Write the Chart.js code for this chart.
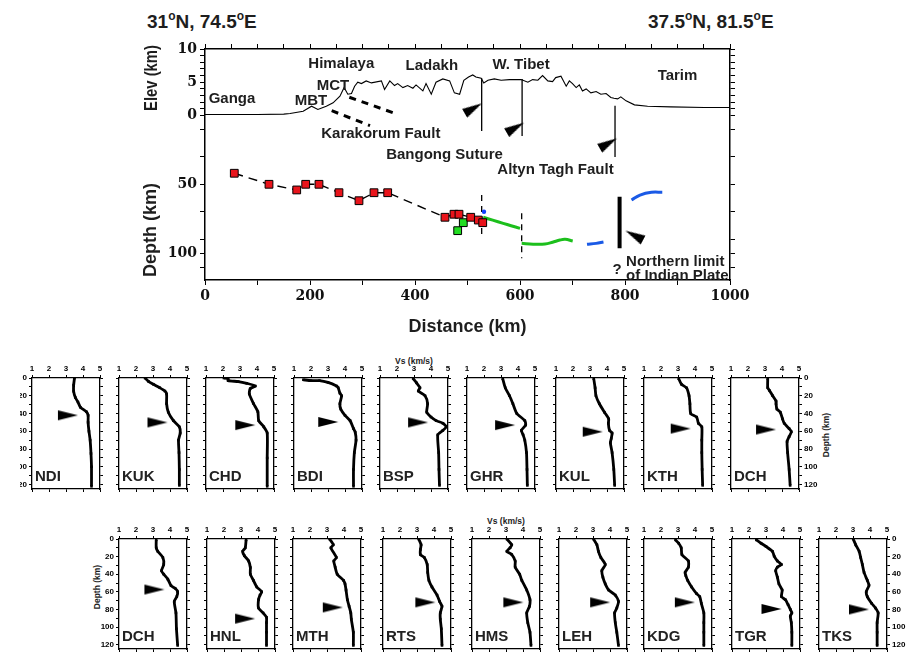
<!DOCTYPE html>
<html><head><meta charset="utf-8">
<script src="https://cdn.jsdelivr.net/npm/chart.js@4.4.1/dist/chart.umd.min.js"></script>
<style>
html,body{margin:0;padding:0;background:#fff}
body{position:relative;width:909px;height:656px;overflow:hidden;font-family:"Liberation Sans",Arial,sans-serif}
canvas{position:absolute}
.t{position:absolute;white-space:nowrap;color:#1e1e1e;font-weight:bold;line-height:1}
.big{font-size:19px}
.big sup{font-size:12px;vertical-align:top;position:relative;top:-2px}
.sm{font-size:8.5px}
.rot{transform:translate(-50%,-50%) rotate(-90deg)}
.ctr{transform:translate(-50%,-50%)}
</style></head><body>
<div class="t big" style="left:147px;top:12px">31<sup>o</sup>N, 74.5<sup>o</sup>E</div>
<div class="t big" style="left:648px;top:12px">37.5<sup>o</sup>N, 81.5<sup>o</sup>E</div>
<div class="t sm ctr" style="left:414px;top:361px">Vs (km/s)</div>
<div class="t sm ctr" style="left:506px;top:521px">Vs (km/s)</div>
<div class="t sm rot" style="left:826px;top:435px">Depth (km)</div>
<div class="t sm rot" style="left:97px;top:587px">Depth (km)</div>
<script>
// ---------------- DATA : main profile ----------------
const elevKm = [0,50,100,150,162,187,203,215,231,244,257,265,272,279,285,291,298,307,317,336,342,352,361,367,377,386,396,402,415,421,431,440,453,466,475,485,493,502,510,516,526,531,539,551,564,580,602,615,624,634,643,653,662,668,678,688,694,700,707,713,719,726,735,745,754,764,773,779,786,792,802,818,843,887,951,1000];
const elevH  = [0.15,0.15,0.15,0.2,0.3,0.65,1.4,0.9,1.4,1.9,2.9,4.2,3.2,3.3,4.4,5.0,4.8,5.2,4.9,5.2,3.9,5.2,4.5,4.8,4.2,4.5,4.1,4.6,3.7,4.8,3.2,5.0,5.5,5.2,3.4,3.2,5.3,5.8,6.1,5.8,5.6,4.9,5.3,5.5,5.3,5.4,5.4,5.0,5.4,5.3,6.0,5.2,5.1,5.7,5.9,4.4,5.2,4.8,4.2,4.6,3.7,4.0,3.4,3.6,3.2,3.3,2.7,2.6,2.5,2.8,2.2,1.6,1.4,1.3,1.2,1.2];
const sutureKm = [527, 604, 781];
const sutureTop = [5.6, 5.5, 1.47];
const sutureBottom = [-2.33, -3.08, -6.24];
const elevArrowKm = [527.6, 607.6, 784.8];
const elevArrowH = [1.83, -1.08, -3.43];
const mbtFaultKm = [241.3, 314.3];
const mbtFaultH = [0.72, -1.53];
const mctFaultKm = [274.9, 365.1];
const mctFaultH = [2.74, 0.23];

const redKm = [55.8,121.9,174.7,191.8,217.1,255.2,293.3,321.9,348,457.1,474.3,483.8,506.1,520.6,529];
const redDepth = [42.0,50.0,54.1,50.0,50.0,56.1,61.9,56.1,56.1,73.9,71.7,71.7,73.9,75.9,77.8];
const greenKm = [481.3, 492];
const greenDepth = [83.6, 77.8];
const blueDotKm = [531.4];
const blueDotDepth = [69.9];
const crustKm = [527, 603.2];
const crustTop = [57.8, 71];
const crustBottom = [89.1, 103.6];
const green1Km = [530,548,568,583,600];
const green1D = [73.9,76,78.3,80,81.9];
const green2Km = [603.2,625,647.6,662,676,686,700.4];
const green2D = [92.8,93.4,93.3,92,90.4,89.9,91.1];
const blue1Km = [727.6,745,759];
const blue1D = [93.5,92.8,91.8];
const blue2Km = [812.4,828.6,850.5,871];
const blue2D = [61.4,57.8,55.8,55.8];
const limitKm = [789.7, 789.7];
const limitD = [59, 96.4];
const limitArrowKm = [800.8];
const limitArrowD = [83.6];

const distTicks = [0,100,200,300,400,500,600,700,800,900,1000];
const elevTicks = [0,1,2,3,4,5,6,7,8,9,10];
const elevLabels = [0,5,10];
const depthTicks = [10,30,50,70,90,100,110];
const depthLabels = [50,100];

// ---------------- DATA : Vs profiles ----------------
const vsNDI=[3.5,3.45,3.45,3.55,3.7,3.85,4.2,4.3,4.3,4.35,4.42,4.47,4.5,4.5];
const zNDI =[0,8,15,22,27,33,38,42,50,60,70,85,100,122];
const vsKUK=[2.53,2.73,3.02,3.4,3.7,3.8,3.8,3.9,4.2,4.55,4.6,4.5,4.53,4.55,4.55];
const zKUK =[0,3.7,7,11,14.7,18,29,38.5,48,55,62,70,84,103,121];
const vsCHD=[2.05,2.3,2.3,2.9,3.4,3.9,3.6,3.55,3.8,4.05,4.1,4.4,4.6,4.6,4.6];
const zCHD =[0,1,3,4,6,9,12,18,29,38,48,55,62,90,122];
const vsBDI=[1.55,2.0,2.5,3.0,3.5,3.6,3.7,3.8,3.7,3.75,4.0,4.3,4.5,4.6,4.65,4.55,4.5,4.5];
const zBDI =[2,3,3,5,9,11,17,20,29,35,42,48,57,61,70,84,103,122];
const vsBSP=[2.95,3.15,3.35,3.25,3.65,3.8,3.75,4.0,4.3,4.7,4.9,4.7,4.4,4.45,4.47,4.5];
const zBSP =[0.7,5.5,11,14.7,20,29,38.5,44,48,51,55,59,64,84,103,121];
const vsGHR=[3.1,3.25,3.5,3.7,3.93,4.4,4.45,4.2,4.3,4.4,4.5,4.53,4.55];
const zGHR =[0.7,11,20,29,40,48,53,59,64,70,84,103,121];
const vsKUL=[3.22,3.3,3.35,3.55,3.85,4.1,4.08,4.15,4.3,4.25,4.2,4.3,4.4,4.45];
const zKUL =[0.7,11,20,29,38.5,46,51,59,62,68,73,84,103,121];
const vsKTH=[3.04,3.2,3.5,3.65,3.7,3.75,4.1,4.2,4.4,4.4,4.4,4.42,4.45];
const zKTH =[0.7,7,11,20,29,40,44,51,55,70,84,103,121];
const vsDCH1=[3.16,3.16,3.26,3.45,3.65,3.65,3.7,3.9,4.03,4.13,4.42,4.55,4.42,4.3,4.33,4.42,4.48];
const zDCH1 =[0.7,11,14,20,26,29,35,38.5,46,51,57,60.5,66,71.5,84,103,121];
const vsDCH2=[3.19,3.19,3.28,3.58,3.63,3.5,3.63,3.87,4.06,4.3,4.45,4.4,4.25,4.35,4.38,4.45];
const zDCH2 =[1,10,14,21,29,36,40,45.6,53,56,60,65.5,71,84,102,121];
const vsHNL=[3.3,3.25,3.1,3.2,3.45,3.55,3.55,3.73,3.93,4.22,4.12,4.03,4.03,4.3,4.5,4.5,4.5,4.5];
const zHNL =[1,10,14,19,25,32.4,40,47,54.5,60,63.7,69,78.4,84,89,95,106,121];
const vsMTH=[3.15,3.37,3.23,3.55,3.4,3.48,3.6,3.97,4.06,4.12,4.2,4.3,4.4,4.43,4.55,4.55];
const zMTH =[0,6.6,10,21,25,32,40,47,51,58,69,76.5,84,91,106,121];
const vsRTS=[3.1,3.24,3.2,3.2,3.43,3.6,3.63,3.7,3.88,4.18,4.33,4.47,4.37,4.37,4.43,4.47];
const zRTS =[0,6.6,12,17.7,21,29,38,47,54.5,63.7,71,76.5,84,91,102,121];
const vsHMS=[3.05,3.34,3.24,3.05,3.34,3.54,3.54,3.8,3.93,4.22,4.41,4.38,4.22,4.28,4.41,4.47];
const zHMS =[0,6.6,10,14,17.7,25,32,40,47,58,69,76.5,84,95,106,121];
const vsLEH=[3.03,3.23,3.32,3.46,3.72,3.52,3.58,3.72,3.92,4.31,4.5,4.4,4.27,4.31,4.4,4.5];
const zLEH =[0,6.6,14,21,29,36,43.4,51,58,63.7,71,78.4,84,95,106,121];
const vsKDG=[2.85,3.04,3.19,3.23,3.61,3.61,3.42,3.46,3.57,3.8,4.09,4.28,4.37,4.52,4.52,4.52,4.52];
const zKDG =[1,4.8,10,17.7,25,32,38,41.6,47,54.5,62,65.5,73,84,95,106,121];
const vsTGR=[2.43,2.71,3.0,3.38,3.48,3.67,3.91,3.67,3.57,3.67,3.76,3.95,3.91,4.14,4.3,4.43,4.52,4.43,4.49,4.52,4.52];
const zTGR =[1,4.8,8.5,14,19.5,25,29,32,36,43.4,51,58,65.5,69,74.7,80,84,87.6,95,106,121];
const vsTKS=[3.01,3.16,3.36,3.45,3.55,3.65,3.84,3.94,3.78,3.84,4.09,4.32,4.48,4.42,4.42,4.42];
const zTKS =[0,6.6,14,21,29,38,47,52.6,60,65.5,73,78.4,84,95,106,121];

const row1Names = ['NDI','KUK','CHD','BDI','BSP','GHR','KUL','KTH','DCH'];
const row1Vs = [vsNDI,vsKUK,vsCHD,vsBDI,vsBSP,vsGHR,vsKUL,vsKTH,vsDCH1];
const row1Z  = [zNDI,zKUK,zCHD,zBDI,zBSP,zGHR,zKUL,zKTH,zDCH1];
const row1ArrowDepth = [42,50,53,49.5,50,53,60.5,57,58];
const row1ArrowVs    = [3.7,3.85,3.9,3.6,3.83,3.83,3.75,3.75,3.65];
const row2Names = ['DCH','HNL','MTH','RTS','HMS','LEH','KDG','TGR','TKS'];
const row2Vs = [vsDCH2,vsHNL,vsMTH,vsRTS,vsHMS,vsLEH,vsKDG,vsTGR,vsTKS];
const row2Z  = [zDCH2,zHNL,zMTH,zRTS,zHMS,zLEH,zKDG,zTGR,zTKS];
const row2ArrowDepth = [57.4,90.5,77.7,72,72,72,72,79.5,80];
const row2ArrowVs    = [3.67,3.83,3.93,4.08,4.02,4.01,3.99,3.91,3.94];
const vsTicks = [1,2,3,4,5];
const panelDepthTicks = [0,10,20,30,40,50,60,70,80,90,100,110,120];

// ---------------- helpers ----------------
const pts = (xs, ys) => xs.map((x,i)=>({x:x, y:ys[i]}));
function mkCanvas(l,t,w,h){
  const c=document.createElement('canvas');
  c.width=w; c.height=h;
  c.style.left=l+'px'; c.style.top=t+'px'; c.style.width=w+'px'; c.style.height=h+'px';
  document.body.appendChild(c); return c;
}
const ARROW = (()=>{ const c=document.createElement('canvas'); c.width=44; c.height=12;
  const g=c.getContext('2d'); g.fillStyle='#000'; g.beginPath(); g.moveTo(2,1); g.lineTo(22,6); g.lineTo(2,11); g.closePath(); g.fill(); return c; })();
const setTicks = vals => s => { s.ticks = vals.map(v=>({value:v})); };

// ---------------- main chart ----------------
// the elevation and depth scales share one frame; both sets of ticks are shown on the left/right edges
const E_MAX=10, E_MIN=-24.74, D_MIN=-48.04, D_MAX=119.35;
const depthAsElev = d => E_MAX - (d - D_MIN) / (D_MAX - D_MIN) * (E_MAX - E_MIN);
const frameTicks = withLabels => s => {
  s.ticks = elevTicks.map(v=>({value:v, lbl: (withLabels && elevLabels.includes(v)) ? String(v) : ''}))
    .concat(depthTicks.map(d=>({value:depthAsElev(d), lbl: (withLabels && depthLabels.includes(d)) ? String(d) : ''})))
    .sort((a,b)=>a.value-b.value);
};
const SERIF = {family:'"DejaVu Serif"', weight:'bold', size:14};
const axisCommon = { grid:{drawOnChartArea:false, drawTicks:true, tickLength:5, color:'#000', lineWidth:1}, border:{display:true,color:'#000',width:1.5} };

const mainText = { id:'mainText', afterDatasetsDraw(c){
  const g=c.ctx, X=c.scales.x, E=c.scales.y, D=c.scales.yD;
  g.save(); g.fillStyle='#1e1e1e'; g.textAlign='center'; g.textBaseline='middle';
  g.font='bold 15px "Liberation Sans"';
  const lab=(t,km,v,sc)=>g.fillText(t, X.getPixelForValue(km), sc.getPixelForValue(v));
  lab('Ganga',51.4,2.48,E); lab('MBT',201.9,2.18,E); lab('MCT',243.8,4.44,E);
  lab('Himalaya',259.6,7.74,E); lab('Ladakh',432,7.5,E); lab('W. Tibet',602,7.6,E);
  lab('Tarim',900,5.9,E); lab('Karakorum Fault',334.9,-2.7,E);
  lab('Bangong Suture',456.2,-5.94,E); lab('Altyn Tagh Fault',667.6,-8.2,E);
  lab('?',784.8,112,D);
  g.textAlign='left';
  lab('Northern limit',802,106.3,D); lab('of Indian Plate',802,116.4,D);
  g.textAlign='center';
  g.font='bold 18px "Liberation Sans"';
  g.fillText('Distance (km)', (c.chartArea.left+c.chartArea.right)/2, c.chartArea.bottom+47);
  g.save(); g.translate(152,78); g.rotate(-Math.PI/2); g.scale(0.78,1);
  g.font='bold 19px "Liberation Sans"'; g.fillText('Elev (km)',0,0); g.restore();
  g.save(); g.translate(151,230); g.rotate(-Math.PI/2);
  g.font='bold 18px "Liberation Sans"'; g.fillText('Depth (km)',0,0); g.restore();
  g.restore();
}};

const mainDatasets = [
  {yAxisID:'y', data:pts(elevArrowKm,elevArrowH), pointStyle:ARROW, pointRotation:-30, pointRadius:8, showLine:false, order:0},
  {yAxisID:'yD', data:pts(limitArrowKm,limitArrowD), pointStyle:ARROW, pointRotation:-152, pointRadius:8, showLine:false, order:0},
  {yAxisID:'yD', data:pts(redKm,redDepth), pointStyle:'rect', pointRadius:5.5, pointBackgroundColor:'#e8141b', pointBorderColor:'#000', pointBorderWidth:1, showLine:false, order:1},
  {yAxisID:'yD', data:pts(greenKm,greenDepth), pointStyle:'rect', pointRadius:5.5, pointBackgroundColor:'#22dd22', pointBorderColor:'#000', pointBorderWidth:1, showLine:true, borderColor:'#000', borderWidth:1, order:1},
  {yAxisID:'yD', data:pts(blueDotKm,blueDotDepth), pointRadius:2.2, pointBackgroundColor:'#1040ff', pointBorderWidth:0, showLine:false, order:1},
  {yAxisID:'yD', data:pts(redKm,redDepth), showLine:true, pointRadius:0, borderColor:'#000', borderWidth:1.4, borderDash:[9,6], order:3},
  {yAxisID:'yD', data:pts(green1Km,green1D), showLine:true, pointRadius:0, borderColor:'#1cbf1c', borderWidth:3, tension:0.4, order:2},
  {yAxisID:'yD', data:pts(green2Km,green2D), showLine:true, pointRadius:0, borderColor:'#1cbf1c', borderWidth:3, tension:0.4, order:2},
  {yAxisID:'yD', data:pts(blue1Km,blue1D), showLine:true, pointRadius:0, borderColor:'#1a5ae6', borderWidth:3, tension:0.4, order:2},
  {yAxisID:'yD', data:pts(blue2Km,blue2D), showLine:true, pointRadius:0, borderColor:'#1a5ae6', borderWidth:3, tension:0.4, order:2},
  {yAxisID:'yD', data:pts(limitKm,limitD), showLine:true, pointRadius:0, borderColor:'#000', borderWidth:4, order:2},
  ...crustKm.map((k,i)=>({yAxisID:'yD', data:[{x:k,y:crustTop[i]},{x:k,y:crustBottom[i]}], showLine:true, pointRadius:0, borderColor:'#000', borderWidth:1.3, borderDash:[6,5], order:3})),
  {yAxisID:'y', data:pts(elevKm,elevH), showLine:true, pointRadius:0, borderColor:'#000', borderWidth:1.1, order:4},
  ...sutureKm.map((k,i)=>({yAxisID:'y', data:[{x:k,y:sutureTop[i]},{x:k,y:sutureBottom[i]}], showLine:true, pointRadius:0, borderColor:'#000', borderWidth:1.3, order:4})),
  {yAxisID:'y', data:pts(mbtFaultKm,mbtFaultH), showLine:true, pointRadius:0, borderColor:'#000', borderWidth:3, borderDash:[7,6], order:4},
  {yAxisID:'y', data:pts(mctFaultKm,mctFaultH), showLine:true, pointRadius:0, borderColor:'#000', borderWidth:3, borderDash:[7,6], order:4}
];

new Chart(mkCanvas(0,0,909,345), {
  type:'scatter',
  data:{datasets:mainDatasets},
  options:{
    responsive:false, animation:false, events:[], layout:{padding:0},
    plugins:{legend:{display:false}, tooltip:{enabled:false}},
    scales:{
      x:{type:'linear', position:'bottom', min:0, max:1000, ...axisCommon,
         afterBuildTicks:setTicks(distTicks),
         ticks:{autoSkip:false, maxRotation:0, minRotation:0, padding:3, color:'#111', font:SERIF, callback:v=> v%200===0 ? String(v) : ''},
         afterFit:s=>{s.height=65;}},
      xT:{type:'linear', axis:'x', position:'top', min:0, max:1000, ...axisCommon,
         afterBuildTicks:setTicks(distTicks.flatMap(v=> v<1000 ? [v, v+50] : [v])),
         ticks:{autoSkip:false, maxRotation:0, callback:()=>''},
         afterFit:s=>{s.height=49;}},
      y:{type:'linear', position:'left', min:E_MIN, max:E_MAX, ...axisCommon,
         afterBuildTicks:frameTicks(true),
         ticks:{autoSkip:false, padding:3, color:'#111', font:SERIF, callback:(v,i,t)=> t[i].lbl},
         afterFit:s=>{s.width=205;}},
      yD:{type:'linear', axis:'y', position:'left', display:false, reverse:true, min:D_MIN, max:D_MAX},
      yR:{type:'linear', axis:'y', position:'right', min:E_MIN, max:E_MAX, ...axisCommon,
         afterBuildTicks:frameTicks(false),
         ticks:{autoSkip:false, callback:()=>''},
         afterFit:s=>{s.width=179;}}
    }
  },
  plugins:[mainText]
});

// ---------------- small Vs panels ----------------
const PW = 68;
const stationName = { id:'stationName', afterDatasetsDraw(c, a, o){
  const g=c.ctx; g.save(); g.fillStyle='#222'; g.font='bold 15px "Liberation Sans"';
  g.textAlign='left'; g.textBaseline='alphabetic';
  g.fillText(o.text, c.chartArea.left+3, c.chartArea.bottom-8); g.restore();
}};
function panel(L, T, H, name, vs, z, aZ, aVs, padL, padR, leftLbl, rightLbl){
  const padT=16, padB=6;
  const cv = mkCanvas(L-padL, T-padT, padL+PW+padR, padT+H+padB);
  const tf = {family:'"Liberation Sans"', size:8, weight:'bold'};
  const g = {drawOnChartArea:false, tickLength:3, color:'#000', lineWidth:1};
  const b = {display:true, color:'#000', width:1.3};
  new Chart(cv, {
    type:'scatter',
    data:{datasets:[
      {data:[{x:aVs, y:aZ}], pointStyle:ARROW, pointRadius:8, showLine:false},
      {data:pts(vs,z), showLine:true, borderColor:'#000', borderWidth:2.8, tension:0.2,
       pointStyle:'rect', pointRadius:1.8, pointBackgroundColor:'#000', pointBorderWidth:0}
    ]},
    options:{
      responsive:false, animation:false, events:[], layout:{padding:0},
      plugins:{legend:{display:false}, tooltip:{enabled:false}, stationName:{text:name}},
      scales:{
        x:{type:'linear', position:'top', min:1, max:5, grid:g, border:b,
           afterBuildTicks:setTicks(vsTicks),
           ticks:{autoSkip:false, maxRotation:0, padding:1, color:'#000', font:tf},
           afterFit:s=>{s.height=padT;}},
        xb:{type:'linear', axis:'x', position:'bottom', min:1, max:5, grid:g, border:b,
           afterBuildTicks:setTicks(vsTicks),
           ticks:{autoSkip:false, maxRotation:0, callback:()=>''},
           afterFit:s=>{s.height=padB;}},
        y:{type:'linear', position:'left', reverse:true, min:0, max:125, grid:g, border:b,
           afterBuildTicks:setTicks(panelDepthTicks),
           ticks:{autoSkip:false, padding:2, color:'#000', font:tf, callback:v=> (leftLbl && v%20===0) ? String(v) : ''},
           afterFit:s=>{s.width=padL;}},
        yr:{type:'linear', axis:'y', position:'right', reverse:true, min:0, max:125, grid:g, border:b,
           afterBuildTicks:setTicks(panelDepthTicks),
           ticks:{autoSkip:false, padding:2, color:'#000', font:tf, callback:v=> (rightLbl && v%20===0) ? String(v) : ''},
           afterFit:s=>{s.width=padR;}}
      }
    },
    plugins:[stationName]
  });
}
const row1L = [32,119,206,294,380,467,556,644,731];
const row2L = [119,207,293,383,472,559,644,732,819];
row1Names.forEach((n,i)=>{
  const padL = i===0 ? 12 : 14, padR = i===8 ? 40 : 14;
  panel(row1L[i], 378, 114, n, row1Vs[i], row1Z[i], row1ArrowDepth[i], row1ArrowVs[i], padL, padR, i===0, i===8);
});
row2Names.forEach((n,i)=>{
  const padL = i===0 ? 34 : 14, padR = i===8 ? 21 : 14;
  panel(row2L[i], 539, 113, n, row2Vs[i], row2Z[i], row2ArrowDepth[i], row2ArrowVs[i], padL, padR, i===0, i===8);
});
</script></body></html>
